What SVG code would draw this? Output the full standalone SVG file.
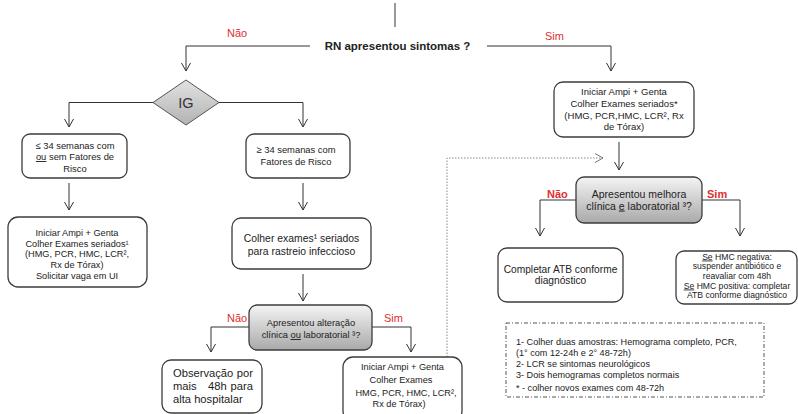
<svg xmlns="http://www.w3.org/2000/svg" width="798" height="414" viewBox="0 0 798 414">
  <defs>
    <style>
      text { font-family: "Liberation Sans", Arial, sans-serif; fill: #222; }
      .box { fill: #fff; stroke: #3c3c3c; stroke-width: 1.3; }
      .dec { fill: url(#grayGrad); stroke: #3c3c3c; stroke-width: 1.3; }
      .line { fill: none; stroke: #333; stroke-width: 1; }
      .dot { fill: none; stroke: #888; stroke-width: 1; stroke-dasharray: 1.5 1.5; }
      .red { fill: #e0302f; font-size: 11px; }
      .c { text-anchor: middle; }
      .u { text-decoration: underline; }
    </style>
    <linearGradient id="grayGrad" x1="0" y1="0" x2="0" y2="1">
      <stop offset="0" stop-color="#f4f4f4"/>
      <stop offset="1" stop-color="#a9a9a9"/>
    </linearGradient>
    <linearGradient id="diaGrad" x1="0" y1="0" x2="0" y2="1">
      <stop offset="0" stop-color="#e2e2e2"/>
      <stop offset="1" stop-color="#b2b2b2"/>
    </linearGradient>
    <marker id="arr" markerWidth="12" markerHeight="12" refX="10" refY="6" orient="auto" markerUnits="userSpaceOnUse">
      <path d="M2,1.5 L10,6 L2,10.5" fill="none" stroke="#333" stroke-width="1"/>
    </marker>
    <marker id="arrGray" markerWidth="12" markerHeight="12" refX="10" refY="6" orient="auto" markerUnits="userSpaceOnUse">
      <path d="M2,1.5 L10,6 L2,10.5" fill="none" stroke="#777" stroke-width="1"/>
    </marker>
  </defs>

  <!-- connectors -->
  <g id="connectors">
    <path class="line" d="M395,3 V27"/>
    <path class="line" d="M310,46 H186 V71" marker-end="url(#arr)"/>
    <path class="line" d="M487,46 H611 V71" marker-end="url(#arr)"/>
    <path class="line" d="M153,102.5 H69 V127" marker-end="url(#arr)"/>
    <path class="line" d="M219,102.5 H303 V127" marker-end="url(#arr)"/>
    <path class="line" d="M69,183 V210" marker-end="url(#arr)"/>
    <path class="line" d="M303,183 V210" marker-end="url(#arr)"/>
    <path class="line" d="M303,274 V301" marker-end="url(#arr)"/>
    <path class="line" d="M249,327 H211 V352" marker-end="url(#arr)"/>
    <path class="line" d="M372,327 H411 V352" marker-end="url(#arr)"/>
    <path class="line" d="M619,142 V170" marker-end="url(#arr)"/>
    <path class="line" d="M576,200 H540 V236" marker-end="url(#arr)"/>
    <path class="line" d="M702,200 H740 V236" marker-end="url(#arr)"/>
    <path class="dot" d="M447,360 V158 H603" marker-end="url(#arrGray)"/>
  </g>

  <!-- edge labels -->
  <g id="labels">
    <text class="red" x="227" y="37">Não</text>
    <text class="red" x="545" y="40">Sim</text>
    <text class="red" x="227" y="322">Não</text>
    <text class="red" x="384" y="322">Sim</text>
    <text class="red" x="547" y="198" font-weight="bold" font-size="10.5">Não</text>
    <text class="red" x="707" y="198" font-weight="bold" font-size="10.5">Sim</text>
  </g>

  <g id="question">
    <text x="397.5" y="50" class="c" font-size="11.5" font-weight="bold">RN apresentou sintomas ?</text>
  </g>

  <g id="ig">
    <polygon points="186,80 219,102.5 186,125 153,102.5" fill="url(#diaGrad)" stroke="#555" stroke-width="1"/>
    <text x="186" y="108" class="c" font-size="14.5" style="fill:#333">IG</text>
  </g>

  <g id="sim-inicio">
    <rect class="box" x="554" y="82" width="140" height="55" rx="9"/>
    <g font-size="9.5" class="c">
      <text x="624" y="95" class="c">Iniciar Ampi + Genta</text>
      <text x="624" y="107" class="c">Colher Exames seriados*</text>
      <text x="624" y="118.5" class="c">(HMG, PCR,HMC, LCR², Rx</text>
      <text x="624" y="130" class="c">de Tórax)</text>
    </g>
  </g>

  <g id="menor34">
    <rect class="box" x="22" y="134" width="105" height="44" rx="8"/>
    <text x="75" y="148.5" class="c" font-size="9.4">≤ 34 semanas com</text>
    <text x="75" y="160" class="c" font-size="9.4"><tspan class="u">ou</tspan> sem Fatores de</text>
    <text x="75" y="171.5" class="c" font-size="9.4">Risco</text>
  </g>

  <g id="maior34">
    <rect class="box" x="246" y="134" width="104" height="44" rx="8"/>
    <text x="296" y="152.5" class="c" font-size="9.4">≥ 34 semanas com</text>
    <text x="296" y="164.5" class="c" font-size="9.4">Fatores de Risco</text>
  </g>

  <g id="iniciar-menor34">
    <rect class="box" x="8" y="217" width="139" height="70" rx="10"/>
    <g font-size="9.2">
      <text x="77" y="235.5" class="c">Iniciar Ampi + Genta</text>
      <text x="77" y="246.5" class="c">Colher Exames seriados¹</text>
      <text x="77" y="257" class="c">(HMG, PCR, HMC, LCR²,</text>
      <text x="77" y="268" class="c">Rx de Tórax)</text>
      <text x="77" y="279" class="c">Solicitar vaga em UI</text>
    </g>
  </g>

  <g id="rastreio">
    <rect class="box" x="232" y="218" width="139" height="51" rx="9"/>
    <text x="301.5" y="242" class="c" font-size="10.4">Colher exames¹ seriados</text>
    <text x="301.5" y="255" class="c" font-size="10.4">para rastreio infeccioso</text>
  </g>

  <g id="alteracao">
    <rect class="dec" x="249" y="305" width="123" height="45" rx="8"/>
    <text x="311" y="326" class="c" font-size="9.3">Apresentou alteração</text>
    <text x="311" y="338" class="c" font-size="9.3">clínica <tspan class="u">ou</tspan> laboratorial ³?</text>
  </g>

  <g id="observacao">
    <rect class="box" x="162" y="360" width="100" height="53" rx="9"/>
    <g font-size="11.2">
      <text x="173" y="377">Observação</text>
      <text x="253" y="377" text-anchor="end">por</text>
      <text x="173" y="390">mais</text>
      <text x="208" y="390">48h</text>
      <text x="253" y="390" text-anchor="end">para</text>
      <text x="173" y="403">alta hospitalar</text>
    </g>
  </g>

  <g id="iniciar-sim">
    <rect class="box" x="343" y="357" width="119" height="64" rx="10"/>
    <g font-size="9.2">
      <text x="402.5" y="369.5" class="c">Iniciar Ampi + Genta</text>
      <text x="401" y="382.5" class="c">Colher Exames</text>
      <text x="406" y="395.5" class="c">HMG, PCR, HMC, LCR²,</text>
      <text x="399" y="406.5" class="c">Rx de Tórax)</text>
    </g>
  </g>

  <g id="melhora">
    <rect class="dec" x="576" y="177" width="126" height="46" rx="8"/>
    <text x="639" y="197.5" class="c" font-size="10.5">Apresentou melhora</text>
    <text x="639" y="209.5" class="c" font-size="10.5">clínica <tspan class="u">e</tspan> laboratorial ³?</text>
  </g>

  <g id="completar">
    <rect class="box" x="498" y="248" width="125" height="54" rx="9"/>
    <text x="560.5" y="272.5" class="c" font-size="10.2">Completar ATB conforme</text>
    <text x="560.5" y="284" class="c" font-size="10.2">diagnóstico</text>
  </g>

  <g id="hmc">
    <rect class="box" x="676" y="251" width="121" height="53" rx="8"/>
    <g font-size="8.6">
      <text x="737" y="259.5" class="c"><tspan class="u">Se</tspan> HMC negativa:</text>
      <text x="737" y="269" class="c">suspender antibiótico e</text>
      <text x="737" y="279" class="c">reavaliar com 48h</text>
      <text x="737" y="288.5" class="c"><tspan class="u">Se</tspan> HMC positiva: completar</text>
      <text x="737" y="298" class="c">ATB conforme diagnóstico</text>
    </g>
  </g>

  <g id="legenda">
    <rect x="506" y="323" width="258" height="74" fill="none" stroke="#555" stroke-width="1" stroke-dasharray="4 2 1 2"/>
    <g font-size="9.1">
      <text x="516" y="345">1- Colher duas amostras: Hemograma completo, PCR,</text>
      <text x="516" y="356">(1° com 12-24h e 2° 48-72h)</text>
      <text x="516" y="366.5">2- LCR se sintomas neurológicos</text>
      <text x="516" y="378">3-  Dois hemogramas completos normais</text>
      <text x="516" y="391">* - colher novos exames com 48-72h</text>
    </g>
  </g>
</svg>
